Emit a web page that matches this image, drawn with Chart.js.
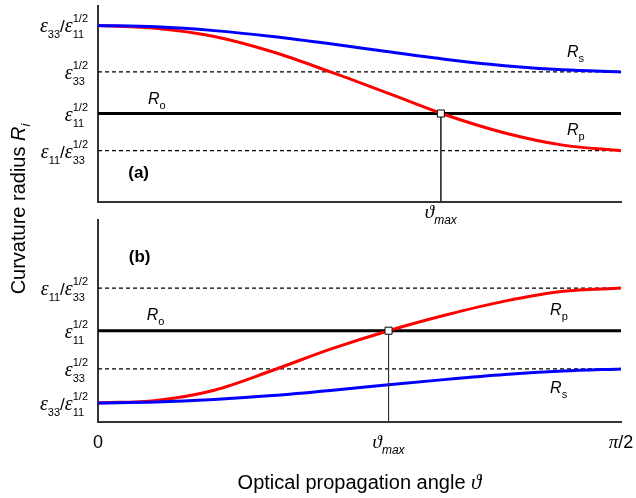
<!DOCTYPE html>
<html>
<head>
<meta charset="utf-8">
<script src="https://cdn.jsdelivr.net/npm/chart.js@4/dist/chart.umd.min.js"></script>
<style>
  body { margin: 0; background: #fff; }
  #wrap { position: relative; width: 636px; height: 498px; }
  #wrap canvas { position: absolute; left: 0; top: 0; }
</style>
</head>
<body>
<div id="wrap">
  <canvas id="panelA" width="636" height="498"></canvas>
  <canvas id="panelB" width="636" height="498"></canvas>
</div>
<script>
// angle in degrees, 0 .. 90 (= pi/2)
const angles = [0, 10, 20, 30, 40, 50, 60, 70, 80, 90];

// panel (a): eps33 > eps11
const rsA = [1.254, 1.250, 1.239, 1.222, 1.201, 1.178, 1.156, 1.138, 1.126, 1.120];
const rpA = [1.254, 1.246, 1.222, 1.178, 1.120, 1.058, 0.995, 0.944, 0.909, 0.893];
const levelsA = [1.254, 1.12, 1.0, 0.893];
const levelLabelsA = ['ε_{33}/ε_{11}^{1/2}', 'ε_{33}^{1/2}', 'ε_{11}^{1/2}', 'ε_{11}/ε_{33}^{1/2}'];
const thetaMaxA = 59;

// panel (b): eps11 > eps33
const rsB = [0.893, 0.896, 0.904, 0.916, 0.932, 0.950, 0.967, 0.982, 0.993, 1.000];
const rpB = [0.893, 0.901, 0.933, 0.995, 1.062, 1.120, 1.170, 1.213, 1.244, 1.254];
const levelsB = [1.254, 1.12, 1.0, 0.893];
const levelLabelsB = ['ε_{11}/ε_{33}^{1/2}', 'ε_{11}^{1/2}', 'ε_{33}^{1/2}', 'ε_{33}/ε_{11}^{1/2}'];
const thetaMaxB = 50;

const xTicks = [0, thetaMaxB, 90];
const xTickLabels = ['0', 'ϑ_{max}', 'π/2'];

const SANS = '"Liberation Sans", Arial, sans-serif';
const SERIF = '"Liberation Serif", "DejaVu Serif", serif';

// tiny markup: x_{sub} x^{sup}
function parseRich(s) {
  const toks = [];
  for (let i = 0; i < s.length; i++) {
    const c = s[i];
    if ((c === '_' || c === '^') && s[i + 1] === '{') {
      const end = s.indexOf('}', i);
      toks[toks.length - 1][c === '_' ? 'sub' : 'sup'] = s.slice(i + 2, end);
      i = end;
    } else {
      toks.push({ base: c });
    }
  }
  return toks;
}

function baseFont(c, st) {
  if (/[\u0370-\u03ff]/.test(c)) return `italic ${st.greek || st.size}px ${SERIF}`;
  if (c === 'R') return `italic ${st.size}px ${SANS}`;
  return `${st.bold ? 'bold ' : ''}${st.size}px ${SANS}`;
}
function scriptFont(st) {
  return `${st.subItalic ? 'italic ' : ''}${st.small}px ${SANS}`;
}

function drawRich(ctx, str, x, y, align, st) {
  const toks = parseRich(str);
  let w = 0;
  toks.forEach(t => {
    ctx.font = baseFont(t.base, st);
    t.w = ctx.measureText(t.base).width;
    ctx.font = scriptFont(st);
    t.sw = Math.max(t.sub ? ctx.measureText(t.sub).width : 0, t.sup ? ctx.measureText(t.sup).width : 0);
    w += t.w + t.sw;
  });
  let cx = align === 'right' ? x - w : align === 'center' ? x - w / 2 : x;
  ctx.textAlign = 'left';
  ctx.textBaseline = 'alphabetic';
  ctx.fillStyle = '#000';
  toks.forEach(t => {
    ctx.font = baseFont(t.base, st);
    ctx.fillText(t.base, cx, y);
    cx += t.w;
    ctx.font = scriptFont(st);
    if (t.sub) ctx.fillText(t.sub, cx, y + st.subDy);
    if (t.sup) ctx.fillText(t.sup, cx, y - st.supDy);
    cx += t.sw;
  });
}

const tickYStyle = { size: 17, greek: 20, small: 11, subDy: 6, supDy: 10 };
const tickXStyle = { size: 18, greek: 19, small: 12, subDy: 6, subItalic: true };
const rStyle = { size: 16, small: 11, subDy: 5 };
const panelStyle = { size: 17, bold: true };
const titleStyle = { size: 20, greek: 21, small: 13, subDy: 5, subItalic: true };

// draws tick labels and annotations from the chart's own scales
const notes = {
  id: 'notes',
  afterDraw(chart, args, o) {
    const { ctx, chartArea, scales: { x, y } } = chart;
    ctx.save();
    o.levels.forEach((v, i) => drawRich(ctx, o.levelLabels[i], 88, y.getPixelForValue(v) + 7, 'right', tickYStyle));
    o.xTicks.forEach((v, i) => drawRich(ctx, o.xTickLabels[i], x.getPixelForValue(v), chartArea.bottom + o.xTickDy, 'center', tickXStyle));
    o.texts.forEach(t => drawRich(ctx, t.str, x.getPixelForValue(t.x), y.getPixelForValue(t.y) + t.dy, 'left', t.st));
    if (o.titles) {
      drawRich(ctx, 'Optical propagation angle ϑ', (chartArea.left + chartArea.right) / 2, 489, 'center', titleStyle);
      ctx.translate(25, 209);
      ctx.rotate(-Math.PI / 2);
      drawRich(ctx, 'Curvature radius R_{i}', 0, 0, 'center', titleStyle);
    }
    ctx.restore();
  }
};

function hline(v, style) {
  return Object.assign({ data: [{ x: 0, y: v }, { x: 90, y: v }], pointRadius: 0, borderColor: '#000' }, style);
}

function makePanel(id, cfg) {
  const datasets = [
    { data: [{ x: cfg.thMax, y: cfg.ro }], showLine: false, pointStyle: 'rect', pointRadius: 5,
      pointBackgroundColor: '#fff', pointBorderColor: '#000', pointBorderWidth: 1 },
    { data: [{ x: cfg.thMax, y: cfg.ro }, { x: cfg.thMax, y: cfg.min }], borderColor: '#333', borderWidth: 1, pointRadius: 0 },
    { data: angles.map((a, i) => ({ x: a, y: cfg.rs[i] })), borderColor: '#0000ff', borderWidth: 3, pointRadius: 0, cubicInterpolationMode: 'monotone' },
    { data: angles.map((a, i) => ({ x: a, y: cfg.rp[i] })), borderColor: '#ff0000', borderWidth: 3, pointRadius: 0, cubicInterpolationMode: 'monotone' },
    hline(cfg.ro, { borderWidth: 3 })
  ];
  cfg.dashed.forEach(v => datasets.push(hline(v, { borderWidth: 1.2, borderDash: [4, 3] })));

  new Chart(document.getElementById(id), {
    type: 'line',
    data: { datasets },
    plugins: [notes],
    options: {
      responsive: false,
      animation: false,
      events: [],
      layout: { padding: { top: cfg.top, right: 15, left: 0, bottom: 0 } },
      plugins: {
        legend: { display: false },
        tooltip: { enabled: false },
        notes: cfg.notes
      },
      scales: {
        x: {
          type: 'linear', min: 0, max: 90,
          grid: { display: false }, ticks: { display: false },
          border: { color: '#333', width: 2 },
          afterFit: s => { s.height = cfg.xh; }
        },
        y: {
          type: 'linear', min: cfg.min, max: cfg.max,
          grid: { display: false }, ticks: { display: false },
          border: { color: '#333', width: 2 },
          afterFit: s => { s.width = 98; }
        }
      }
    }
  });
}

makePanel('panelA', {
  top: 0, xh: 296, min: 0.745, max: 1.31,
  rs: rsA, rp: rpA, ro: levelsA[2], dashed: [levelsA[1], levelsA[3]], thMax: thetaMaxA,
  notes: {
    levels: levelsA, levelLabels: levelLabelsA,
    xTicks: [thetaMaxA], xTickLabels: ['ϑ_{max}'], xTickDy: 16,
    texts: [
      { str: 'R_{s}', x: 80.7, y: levelsA[1], dy: -15, st: rStyle },
      { str: 'R_{p}', x: 80.7, y: levelsA[3], dy: -16, st: rStyle },
      { str: 'R_{o}', x: 8.6, y: levelsA[2], dy: -10, st: rStyle },
      { str: '(a)', x: 5.2, y: 0.745, dy: -24, st: panelStyle }
    ]
  }
});

makePanel('panelB', {
  top: 220, xh: 76, min: 0.833, max: 1.468,
  rs: rsB, rp: rpB, ro: levelsB[1], dashed: [levelsB[0], levelsB[2]], thMax: thetaMaxB,
  notes: {
    levels: levelsB, levelLabels: levelLabelsB,
    xTicks: xTicks, xTickLabels: xTickLabels, xTickDy: 26,
    titles: true,
    texts: [
      { str: 'R_{p}', x: 77.8, y: levelsB[1], dy: -16, st: rStyle },
      { str: 'R_{s}', x: 77.8, y: levelsB[2], dy: 24, st: rStyle },
      { str: 'R_{o}', x: 8.4, y: levelsB[1], dy: -11, st: rStyle },
      { str: '(b)', x: 5.3, y: levelsB[0], dy: -26, st: panelStyle }
    ]
  }
});
</script>
</body>
</html>
